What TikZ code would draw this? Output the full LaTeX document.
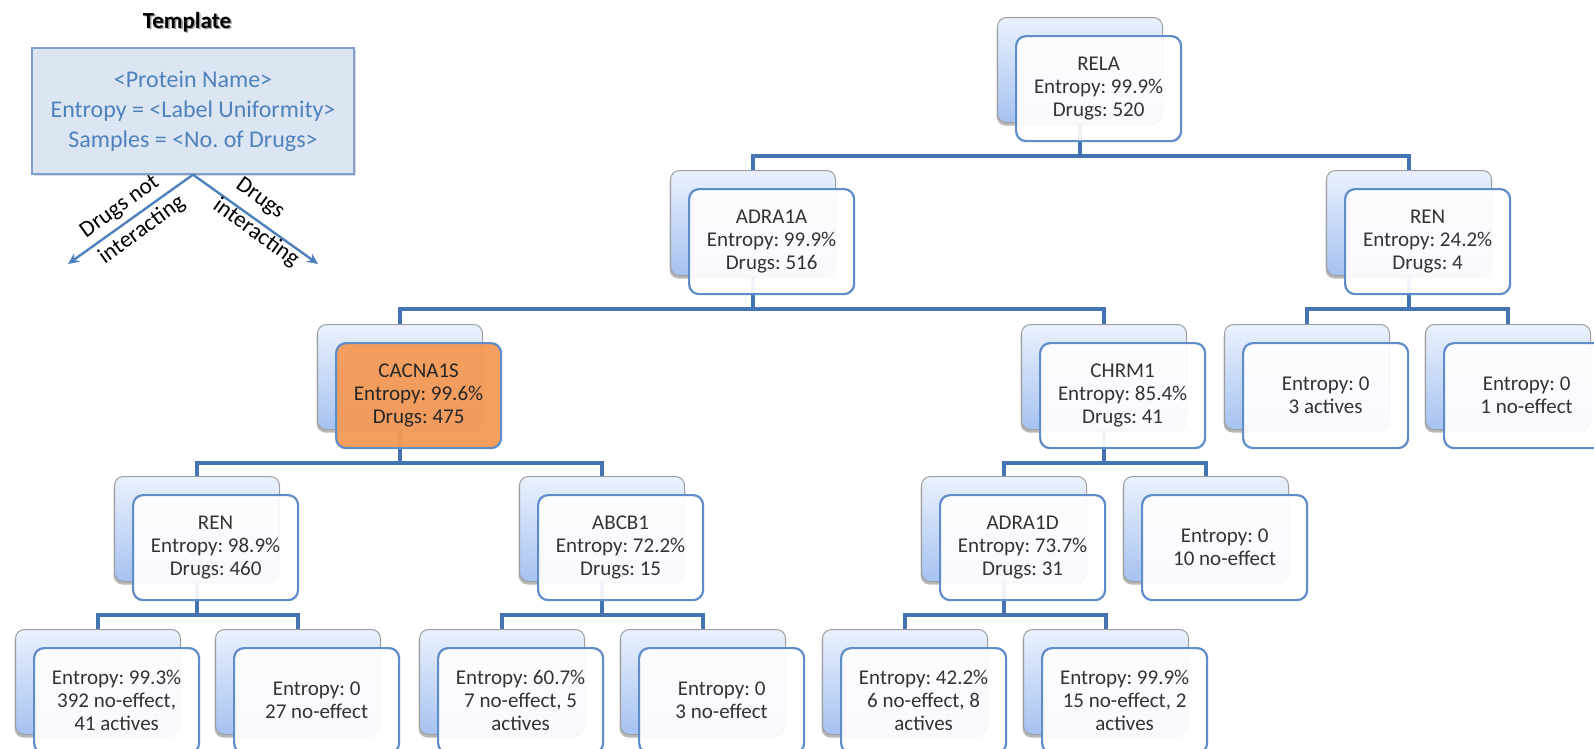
\documentclass[tikz,border=0pt]{standalone}
\usepackage{fontspec}
\setmainfont{Carlito}
\frenchspacing
\usetikzlibrary{shadows,arrows.meta}
\pgfdeclarelayer{paper}
\pgfdeclarelayer{backlayer}
\pgfdeclarelayer{midlayer}
\pgfsetlayers{paper,backlayer,midlayer,main}

\definecolor{connblue}{HTML}{4475B2}
\definecolor{frameblue}{HTML}{5E8DC9}
\definecolor{tmplfill}{HTML}{DCE6F2}
\definecolor{tmplline}{HTML}{7F9FCF}
\definecolor{tmpltext}{HTML}{4F81BD}
\definecolor{nodetext}{HTML}{333333}
\definecolor{backtop}{HTML}{EAF1FD}
\definecolor{backbot}{HTML}{A6C2F1}
\definecolor{hilite}{HTML}{F59A55}

\tikzset{
  backbox/.style={minimum width=165pt, minimum height=105pt, rounded corners=9pt,
    top color=backtop, bottom color=backbot, draw=black!38, line width=1pt,
    drop shadow={shadow xshift=-1pt, shadow yshift=-3pt, fill=black, opacity=0.28}},
  frontbox/.style={minimum width=165pt, minimum height=105pt, rounded corners=10pt,
    fill=white, fill opacity=0.92, text opacity=1, draw=frameblue, line width=2.2pt,
    align=center, text=nodetext, font=\fontsize{21}{23}\selectfont, inner sep=2pt},
  hotbox/.style={frontbox, fill=hilite, fill opacity=0.94, text=black!85},
  conn/.style={draw=connblue, line width=3.5pt},
  tmplarrow/.style={draw=tmpltext, line width=2.4pt, -{Stealth[length=11pt,width=10pt]}},
  armlabel/.style={font=\fontsize{23}{27}\selectfont, text=black, inner sep=0pt}
}

% one tree entry: a shaded card behind, a framed card in front
\newcommand\treenode[5][frontbox]{%
  \begin{pgfonlayer}{backlayer}
    \node[backbox, anchor=north west] (#2-b) at ({#3-18},{#4-18}) {};
  \end{pgfonlayer}
  \node[#1, anchor=north west] (#2) at (#3,#4) {#5};}

\begin{document}
\begin{tikzpicture}[x=1pt, y=-1pt]
\clip (0,0) rectangle (1594,748);
\begin{pgfonlayer}{paper}
  \fill[white] (0,0) rectangle (1594,748);
\end{pgfonlayer}

% ---- legend ----
\node[text=black!40, font=\bfseries\fontsize{23}{26}\selectfont] (titleshade) at (188.5,23.5) {Template};
\node[font=\bfseries\fontsize{23}{26}\selectfont] (title) at (187,22) {Template};
\node[minimum width=322pt, minimum height=126pt, fill=tmplfill, draw=tmplline, line width=1.3pt,
      align=center, text=tmpltext, font=\fontsize{24}{30}\selectfont,
      drop shadow={shadow xshift=2pt, shadow yshift=-2pt, fill=black, opacity=0.15}]
      (tmpl) at (193,111) {<Protein Name>\\Entropy = <Label Uniformity>\\Samples = <No. of Drugs>};
\coordinate (lefttip) at (68,264);
\coordinate (righttip) at (318,264);
\draw[tmplarrow] (tmpl.south) -- (lefttip);
\draw[tmplarrow] (tmpl.south) -- (righttip);
% arm captions, one line each, turned along the arrows
\node[armlabel, rotate=35.8] (notlabA) at (120,207) {Drugs not};
\node[armlabel, rotate=35.8] (notlabB) at (142,230) {interacting};
\node[armlabel, rotate=-35.8] (yeslabA) at (260,199) {Drugs};
\node[armlabel, rotate=-35.8] (yeslabB) at (256,233) {interacting};

% ---- tree ----
\treenode{rela}{1015}{35}{RELA\\Entropy: 99.9\%\\Drugs: 520}

\treenode{adraA}{688}{188}{ADRA1A\\Entropy: 99.9\%\\Drugs: 516}
\treenode{renA}{1344}{188}{REN\\Entropy: 24.2\%\\Drugs: 4}

\treenode[hotbox]{cacna}{335}{342}{CACNA1S\\Entropy: 99.6\%\\Drugs: 475}
\treenode{chrm}{1039}{342}{CHRM1\\Entropy: 85.4\%\\Drugs: 41}
\treenode{leafA}{1242}{342}{Entropy: 0\\3 actives}
\treenode{leafB}{1443}{342}{Entropy: 0\\1 no-effect}

\treenode{renB}{132}{494}{REN\\Entropy: 98.9\%\\Drugs: 460}
\treenode{abcb}{537}{494}{ABCB1\\Entropy: 72.2\%\\Drugs: 15}
\treenode{adraD}{939}{494}{ADRA1D\\Entropy: 73.7\%\\Drugs: 31}
\treenode{leafC}{1141}{494}{Entropy: 0\\10 no-effect}

\treenode{leafD}{33}{647}{Entropy: 99.3\%\\392 no-effect,\\41 actives}
\treenode{leafE}{233}{647}{Entropy: 0\\27 no-effect}
\treenode{leafF}{437}{647}{Entropy: 60.7\%\\7 no-effect, 5\\actives}
\treenode{leafG}{638}{647}{Entropy: 0\\3 no-effect}
\treenode{leafH}{840}{647}{Entropy: 42.2\%\\6 no-effect, 8\\actives}
\treenode{leafI}{1041}{647}{Entropy: 99.9\%\\15 no-effect, 2\\actives}

% ---- connectors (behind the front cards) ----
\begin{pgfonlayer}{midlayer}
  \foreach \p/\c in {rela/adraA, rela/renA,
                     adraA/cacna, adraA/chrm, renA/leafA, renA/leafB,
                     cacna/renB, cacna/abcb, chrm/adraD, chrm/leafC,
                     renB/leafD, renB/leafE, abcb/leafF, abcb/leafG,
                     adraD/leafH, adraD/leafI}
    \draw[conn] (\p-b.south) -- ++(0,33) -| (\c-b.north);
\end{pgfonlayer}
\end{tikzpicture}
\end{document}
